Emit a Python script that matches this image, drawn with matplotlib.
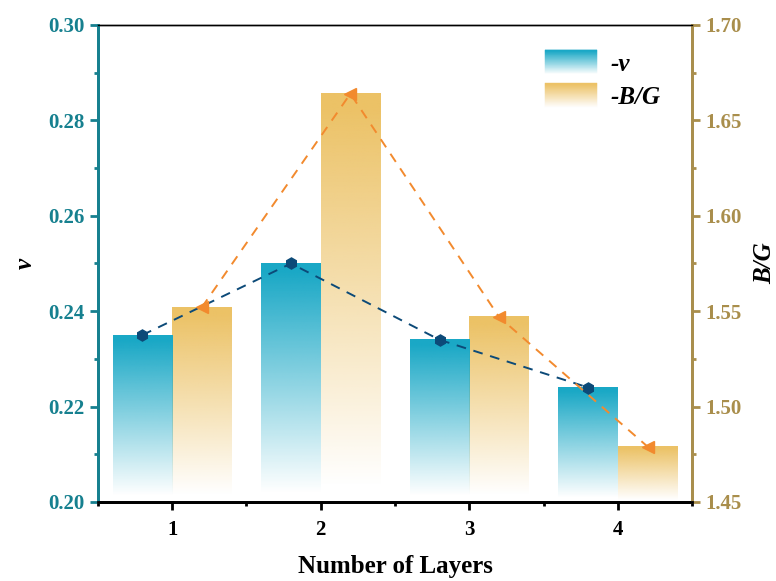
import numpy as np
import matplotlib
matplotlib.use("Agg")
import matplotlib.pyplot as plt
from matplotlib.patches import Rectangle
from matplotlib.legend_handler import HandlerBase
from matplotlib.ticker import MultipleLocator

plt.rcParams['font.family'] = ['Liberation Serif', 'DejaVu Serif']
plt.rcParams['font.weight'] = 'bold'

layers = [1, 2, 3, 4]
poisson = [0.235, 0.250, 0.234, 0.224]
bg_ratio = [1.552, 1.664, 1.547, 1.479]

teal = '#1aa8c6'
gold = '#ecc266'
navy = '#0c4a78'
orange = '#f28a2e'
teal_axis = '#16808f'
gold_axis = '#a98e4c'


def fade(t):
    return np.clip(t * 1.08 - 0.04, 0, 1)


def grad_rgba(color, n=200):
    rgb = np.array(matplotlib.colors.to_rgb(color))
    t = np.linspace(0, 1, n)
    arr = np.zeros((n, 1, 4))
    arr[:, 0, :3] = rgb
    arr[:, 0, 3] = fade(t)
    return arr


def grad_bar(ax, x, w, bottom, top, color):
    ax.imshow(grad_rgba(color), extent=(x - w / 2, x + w / 2, bottom, top),
              origin='lower', aspect='auto', interpolation='bilinear', zorder=1)


class GradHandler(HandlerBase):
    # legend patch drawn as opaque strips blended toward white
    def create_artists(self, legend, orig_handle, xdescent, ydescent,
                       width, height, fontsize, trans):
        rgb = np.array(orig_handle.get_facecolor()[:3])
        n = 40
        arts = []
        for i in range(n):
            a = fade((i + 0.5) / n)
            c = rgb * a + (1 - a)
            r = Rectangle((-xdescent, -ydescent + height * i / n), width, height / n,
                          facecolor=c, edgecolor=c, lw=0.3, transform=trans)
            arts.append(r)
        return arts


fig = plt.figure(figsize=(7.76, 5.81), dpi=100)
ax = fig.add_axes([0.126, 0.136, 0.766, 0.821])
ax2 = ax.twinx()
ax.set_zorder(ax2.get_zorder() + 1)
ax.patch.set_visible(False)

w = 0.4
for x, v in zip(layers, poisson):
    grad_bar(ax, x - 0.2, w, 0.20, v, teal)
for x, b in zip(layers, bg_ratio):
    grad_bar(ax2, x + 0.2, w, 1.45, b, gold)

xv = [x - 0.2 for x in layers]
xb = [x + 0.2 for x in layers]
ax.plot(xv, poisson, ls='--', color=navy, lw=1.4, marker='h', ms=8,
        dashes=(5, 4), zorder=5)
ax.plot(xb, bg_ratio, ls='--', color=orange, lw=1.4, marker='<', ms=8,
        dashes=(5, 4), zorder=5, transform=ax2.transData)

ax.set_xlim(0.5, 4.5)
ax.set_ylim(0.20, 0.30)
ax2.set_ylim(1.45, 1.70)
ax2.set_xlim(0.5, 4.5)

ax.set_xticks(layers)
ax.xaxis.set_minor_locator(MultipleLocator(0.5))
ax.set_yticks(np.arange(0.20, 0.301, 0.02))
ax.yaxis.set_minor_locator(MultipleLocator(0.01))
ax2.set_yticks(np.arange(1.45, 1.701, 0.05))
ax2.yaxis.set_minor_locator(MultipleLocator(0.025))
ax.set_yticklabels(['%.2f' % t for t in np.arange(0.20, 0.301, 0.02)])
ax2.set_yticklabels(['%.2f' % t for t in np.arange(1.45, 1.701, 0.05)])

for a in (ax, ax2):
    a.spines['left'].set_color(teal_axis)
    a.spines['left'].set_linewidth(2)
    a.spines['right'].set_color(gold_axis)
    a.spines['right'].set_linewidth(2)
    a.spines['bottom'].set_linewidth(2)
    a.spines['top'].set_linewidth(1)

ax.tick_params(axis='x', which='major', direction='out', length=6, width=2,
               labelsize=15, pad=7)
ax.tick_params(axis='x', which='minor', direction='out', length=3, width=2)
ax.tick_params(axis='y', which='major', direction='out', length=6, width=2,
               colors=teal_axis, labelsize=15)
ax.tick_params(axis='y', which='minor', direction='out', length=3, width=2,
               colors=teal_axis)
ax2.tick_params(axis='y', which='major', direction='out', length=6, width=2,
                colors=gold_axis, labelsize=15)
ax2.tick_params(axis='y', which='minor', direction='out', length=3, width=2,
                colors=gold_axis)

ax.set_xlabel('Number of Layers', fontsize=18, fontweight='bold', labelpad=11)
ax.set_ylabel('v', fontsize=18, fontweight='bold', style='italic', labelpad=8)
ax2.set_ylabel('B/G', fontsize=18, fontweight='bold', style='italic', labelpad=8)

h1 = Rectangle((0, 0), 1, 1, facecolor=teal)
h2 = Rectangle((0, 0), 1, 1, facecolor=gold)
leg = ax.legend([h1, h2], ['-v', '-B/G'], handler_map={Rectangle: GradHandler()},
                loc='upper right', bbox_to_anchor=(0.985, 0.995), frameon=False,
                prop={'size': 18, 'weight': 'bold', 'style': 'italic'},
                handlelength=2.1, handleheight=1.15, labelspacing=0.3,
                handletextpad=0.55)

fig.savefig('out.png', dpi=100)
